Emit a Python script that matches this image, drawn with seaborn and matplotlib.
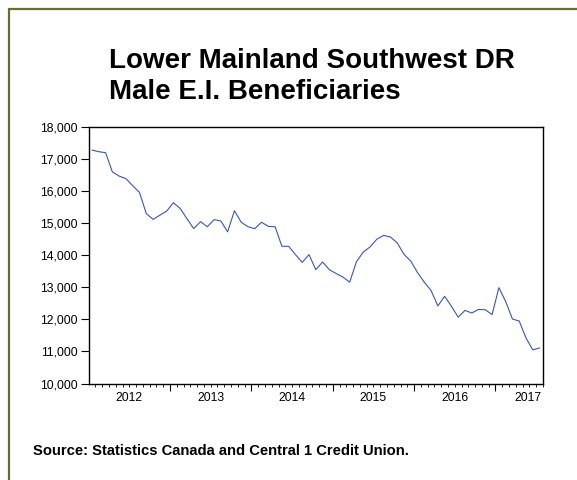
import numpy as np
import pandas as pd
import seaborn as sns
import matplotlib.pyplot as plt
from matplotlib.lines import Line2D
from matplotlib.ticker import FixedLocator, FuncFormatter

sns.set_style("white")
plt.rcParams["font.family"] = ["Liberation Sans", "DejaVu Sans"]
plt.rcParams["text.color"] = "black"

# monthly values, Jan 2012 - Jul 2017
beneficiaries = [
    17280, 17230, 17200, 16600, 16470, 16390, 16170, 15960, 15300, 15120, 15250, 15375,  # 2012
    15640, 15460, 15140, 14830, 15050, 14890, 15110, 15070, 14730, 15390, 15030, 14890,  # 2013
    14830, 15030, 14900, 14890, 14280, 14280, 14020, 13780, 14020, 13550, 13790, 13550,  # 2014
    13430, 13320, 13160, 13800, 14100, 14260, 14500, 14620, 14570, 14390, 14030, 13820,  # 2015
    13460, 13160, 12900, 12420, 12720, 12410, 12070, 12280, 12200, 12310, 12300, 12150,  # 2016
    12990, 12560, 12010, 11950, 11420, 11050, 11110,                                     # 2017
]
years = ["2012", "2013", "2014", "2015", "2016", "2017"]
year_label_pos = [5.5, 17.5, 29.5, 41.5, 53.5, 64.3]
yticks = [10000, 11000, 12000, 13000, 14000, 15000, 16000, 17000, 18000]

df = pd.DataFrame({"t": np.arange(len(beneficiaries)), "value": beneficiaries})

fig = plt.figure(figsize=(5.77, 4.80), dpi=100)
ax = fig.add_axes([0.1542, 0.201, 0.7868, 0.5344])

sns.lineplot(data=df, x="t", y="value", ax=ax, color="#3a56b0", linewidth=0.8)

ax.set_xlim(-0.45, 66.5)
ax.set_ylim(10000, 18000)
ax.set_xlabel("")
ax.set_ylabel("")

ax.set_yticks(yticks)
ax.yaxis.set_major_formatter(FuncFormatter(lambda v, p: f"{int(v):,}"))
ax.tick_params(axis="y", direction="out", length=6, width=0.8, labelsize=8.8, pad=2,
               left=True, colors="black")

# year boundaries as major ticks, months as minor ticks
ax.xaxis.set_major_locator(FixedLocator([11.5, 23.5, 35.5, 47.5, 59.5]))
ax.xaxis.set_minor_locator(FixedLocator(np.arange(-0.5, 67, 1.0)))
ax.set_xticklabels([])
ax.tick_params(axis="x", which="major", direction="out", length=5, width=0.8, bottom=True, colors="black")
ax.tick_params(axis="x", which="minor", direction="out", length=2.5, width=0.6, bottom=True, colors="black")
for pos, lab in zip(year_label_pos, years):
    ax.text(pos, -0.035, lab, transform=ax.get_xaxis_transform(), ha="center", va="top", fontsize=8.8)

for s in ax.spines.values():
    s.set_color("black")
    s.set_linewidth(1.0)

fig.text(0.189, 1 - 48 / 480, "Lower Mainland Southwest DR\nMale E.I. Beneficiaries",
         ha="left", va="top", fontsize=20, fontweight="bold", linespacing=1.24)
fig.text(0.057, 1 - 451 / 480, "Source: Statistics Canada and Central 1 Credit Union.",
         ha="left", va="center", fontsize=10.6, fontweight="bold")

# olive frame on left and top
olive = "#6b6b2e"
fig.add_artist(Line2D([8.5 / 577, 8.5 / 577], [0, 1 - 8.5 / 480], color=olive, linewidth=1.6,
                      transform=fig.transFigure))
fig.add_artist(Line2D([8.5 / 577, 1], [1 - 8.5 / 480, 1 - 8.5 / 480], color=olive, linewidth=1.6,
                      transform=fig.transFigure))

plt.savefig("out.png", dpi=100)
